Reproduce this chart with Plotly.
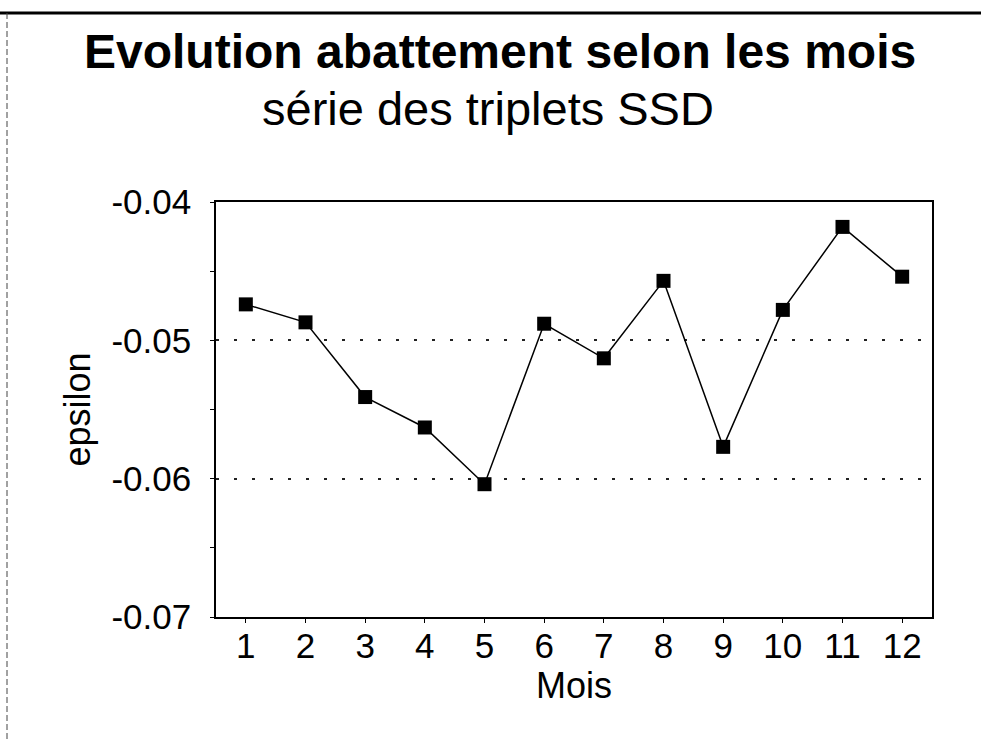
import plotly.graph_objects as go

# Monthly abatement coefficient (epsilon), SSD triplet series
mois = [1, 2, 3, 4, 5, 6, 7, 8, 9, 10, 11, 12]
epsilon = [-0.0474, -0.0487, -0.0541, -0.0563, -0.0604, -0.0488,
           -0.0513, -0.0457, -0.0577, -0.0478, -0.0418, -0.0454]

y_ticks = [-0.07, -0.06, -0.05, -0.04]
y_tick_labels = ["-0.07", "-0.06", "-0.05", "-0.04"]

titre = "Evolution abattement selon les mois"
sous_titre = "série des triplets SSD"

FONT = "Liberation Sans, Arial, Helvetica, sans-serif"

# plot-area geometry in pixels (used to place the free-standing texts and frame)
W, H = 981, 741
L, R, T, B = 216, 49, 202, 124
PW, PH = W - L - R, H - T - B


def px_x(p):
    return (p - L) / PW


def px_y(p):
    return (H - B - p) / PH


fig = go.Figure()
fig.add_trace(go.Scatter(
    x=mois, y=epsilon, mode="lines+markers",
    line=dict(color="black", width=1.5),
    marker=dict(symbol="square", size=14, color="black"),
    showlegend=False, hoverinfo="x+y",
))

fig.update_layout(
    width=W, height=H,
    margin=dict(l=L, r=R, t=T, b=B, pad=0),
    paper_bgcolor="white", plot_bgcolor="white",
    font=dict(family=FONT, color="black", size=35),
    xaxis=dict(
        range=[0.5, 12.5], tickmode="array", tickvals=mois,
        ticktext=[str(m) for m in mois],
        showline=True, linecolor="black", linewidth=1.6, mirror=True,
        ticks="outside", ticklen=4, tickcolor="black", tickwidth=1,
        showgrid=False, zeroline=False,
        tickfont=dict(size=35),
        ticklabelstandoff=-7,
        title=dict(text="Mois", font=dict(size=36), standoff=4),
    ),
    yaxis=dict(
        range=[-0.07, -0.04], tickmode="array", tickvals=y_ticks,
        ticktext=y_tick_labels,
        showline=True, linecolor="black", linewidth=1.6, mirror=True,
        ticks="outside", ticklen=4, tickcolor="black", tickwidth=1,
        showgrid=True, gridcolor="#222", gridwidth=2, griddash="3px,15px",
        zeroline=False,
        minor=dict(tickvals=[-0.065, -0.055, -0.045], ticks="outside",
                   ticklen=4, tickcolor="black", showgrid=False),
        tickfont=dict(size=35),
        ticklabelstandoff=12,
        title=dict(text="epsilon", font=dict(size=36), standoff=10),
    ),
    annotations=[
        dict(text="<b>%s</b>" % titre, x=px_x(500), y=px_y(52),
             xref="paper", yref="paper", xanchor="center", yanchor="middle",
             showarrow=False, font=dict(size=48, family=FONT)),
        dict(text=sous_titre, x=px_x(488), y=px_y(109),
             xref="paper", yref="paper", xanchor="center", yanchor="middle",
             showarrow=False, font=dict(size=47, family=FONT)),
    ],
    shapes=[
        # page frame: heavy rule on top, light dashed rule on the left
        dict(type="line", xref="paper", yref="paper",
             x0=px_x(0), x1=px_x(W), y0=px_y(13), y1=px_y(13),
             line=dict(color="black", width=3)),
        dict(type="line", xref="paper", yref="paper",
             x0=px_x(7), x1=px_x(7), y0=px_y(13), y1=px_y(H),
             line=dict(color="#444", width=1, dash="6px,3px")),
    ],
)

fig.write_html("out.html")
